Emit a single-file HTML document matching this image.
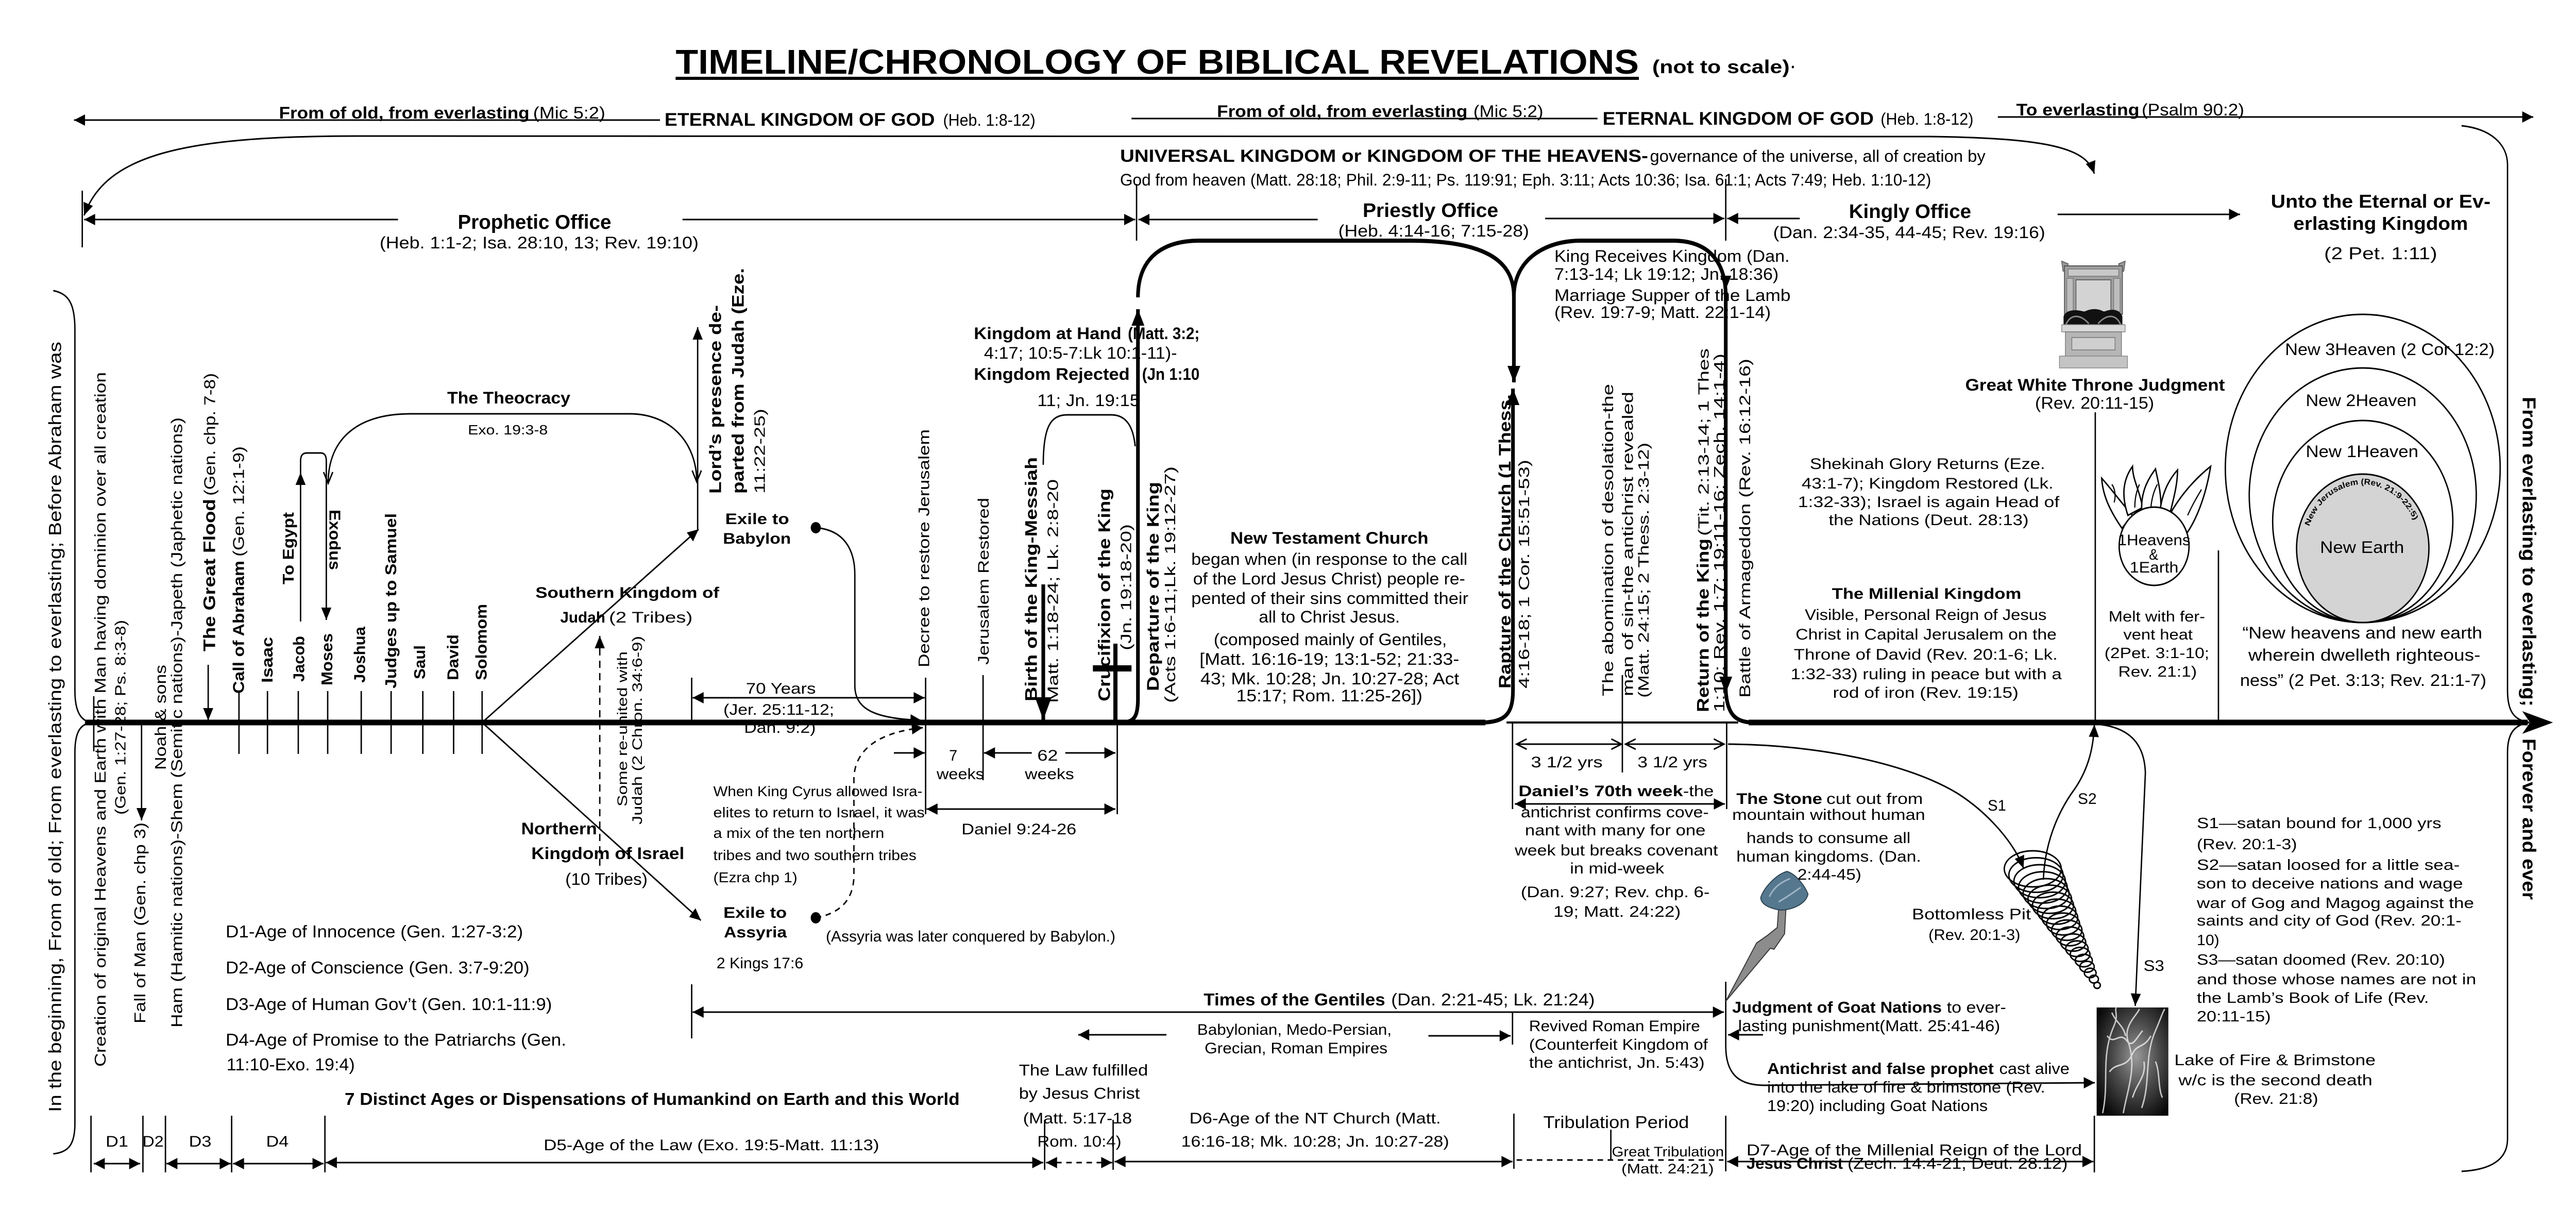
<!DOCTYPE html>
<html><head><meta charset="utf-8">
<meta name="viewport" content="width=device-width, initial-scale=1">
<style>
html,body{margin:0;padding:0;background:#fff;width:100%;height:100%;overflow:hidden;}
svg{display:block;position:fixed;left:0;top:0;width:100vw;height:100vh;}
text{font-family:"Liberation Sans","DejaVu Sans",sans-serif;fill:#000;}
.b{font-weight:bold;}
</style></head><body>
<svg viewBox="0 0 5605 2348" preserveAspectRatio="none" xmlns="http://www.w3.org/2000/svg" overflow="hidden">
<defs>
<marker id="a" markerUnits="userSpaceOnUse" markerWidth="30" markerHeight="26" refX="24" refY="11" orient="auto-start-reverse" overflow="visible"><path d="M0,0L24,11L0,22z" fill="#000"/></marker>
<marker id="t" markerUnits="userSpaceOnUse" markerWidth="36" markerHeight="30" refX="32" refY="14" orient="auto-start-reverse" overflow="visible"><path d="M0,0L32,14L0,28z" fill="#000"/></marker>
<marker id="big" markerUnits="userSpaceOnUse" markerWidth="48" markerHeight="40" refX="44" refY="18" orient="auto-start-reverse" overflow="visible"><path d="M0,0L44,18L0,36z" fill="#000"/></marker>
<marker id="v" markerUnits="userSpaceOnUse" markerWidth="26" markerHeight="24" refX="22" refY="10" orient="auto-start-reverse" overflow="visible"><path d="M0,0L22,10L0,20" fill="none" stroke="#000" stroke-width="3"/></marker>
<radialGradient id="fire" cx="55%" cy="45%" r="65%"><stop offset="0" stop-color="#9a9a9a"/><stop offset="0.5" stop-color="#4a4a4a"/><stop offset="1" stop-color="#080808"/></radialGradient>
</defs>

<!-- ============ LINES ============ -->
<g stroke="#000" fill="none" stroke-width="3">
<line x1="1436" y1="233" x2="161" y2="233" marker-end="url(#a)"/>
<line x1="2462" y1="230" x2="3476" y2="230"/>
<line x1="4347" y1="227" x2="5512" y2="227" marker-end="url(#a)"/>
<path d="M183 418 C230 300 400 264 777 264 L4200 265 C4470 268 4540 290 4557 337" marker-start="url(#a)" marker-end="url(#a)"/>
<line x1="179" y1="370" x2="179" y2="480"/>
<line x1="866" y1="426" x2="183" y2="426" marker-end="url(#a)"/>
<line x1="1485" y1="426" x2="2470" y2="426" marker-end="url(#a)"/>
<line x1="2473" y1="357" x2="2473" y2="467"/>
<line x1="2867" y1="426" x2="2477" y2="426" marker-end="url(#a)"/>
<line x1="3362" y1="424" x2="3752" y2="424" marker-end="url(#a)"/>
<line x1="3755" y1="347" x2="3755" y2="467"/>
<line x1="3916" y1="424" x2="3758" y2="424" marker-end="url(#a)"/>
<line x1="4477" y1="416" x2="4874" y2="416" marker-end="url(#a)"/>

<path d="M116 564 C150 570 163 590 163 640 L163 1340 C163 1380 175 1400 201 1402 C175 1404 163 1420 163 1460 L163 2180 C163 2220 150 2236 116 2239"/>
<path d="M5356 244 C5420 250 5456 280 5456 320 L5456 1340 C5456 1380 5470 1398 5504 1402 C5470 1406 5456 1424 5456 1460 L5456 2210 C5456 2250 5420 2270 5356 2273"/>

<line x1="204" y1="1351" x2="204" y2="1458"/>
<line x1="520" y1="1341" x2="520" y2="1463"/>
<line x1="582" y1="1341" x2="582" y2="1463"/>
<line x1="649" y1="1341" x2="649" y2="1463"/>
<line x1="713" y1="1341" x2="713" y2="1463"/>
<line x1="786" y1="1341" x2="786" y2="1463"/>
<line x1="851" y1="1341" x2="851" y2="1463"/>
<line x1="920" y1="1341" x2="920" y2="1463"/>
<line x1="987" y1="1341" x2="987" y2="1463"/>
<line x1="1049" y1="1341" x2="1049" y2="1463"/>
<line x1="453" y1="1290" x2="453" y2="1398" marker-end="url(#a)"/>
<line x1="308" y1="1402" x2="308" y2="1592" marker-end="url(#a)"/>
<path d="M654 1206 L654 895 C654 884 658 879 668 879 L698 879 C706 879 710 884 710 895 L710 1203" marker-end="url(#a)"/>
<path d="M714 938 C714 850 780 803 893 803 L1370 803 C1460 803 1516 860 1516 935" marker-start="url(#v)" marker-end="url(#v)"/>
<line x1="1049" y1="1402" x2="1520" y2="1027" marker-end="url(#a)"/>
<line x1="1049" y1="1402" x2="1525" y2="1786" marker-end="url(#a)"/>
<line x1="1518" y1="1027" x2="1518" y2="635" marker-end="url(#a)"/>
<line x1="1305" y1="1680" x2="1305" y2="1234" stroke-dasharray="14 10" marker-end="url(#a)"/>
<path d="M1775 1024 C1835 1028 1860 1065 1860 1115 L1860 1330 C1860 1380 1910 1394 2005 1398" marker-end="url(#a)"/>
<path d="M1775 1781 C1830 1772 1857 1745 1858 1700 L1858 1510 C1860 1450 1920 1420 2008 1412" stroke-dasharray="12 10" marker-end="url(#a)"/>
<line x1="1505" y1="1315" x2="1505" y2="1402"/>
<line x1="1507" y1="1354" x2="2012" y2="1354" marker-start="url(#a)" marker-end="url(#a)"/>
<line x1="2014" y1="1315" x2="2014" y2="1580"/>
<line x1="2139" y1="1310" x2="2139" y2="1514"/>
<line x1="1945" y1="1461" x2="2012" y2="1461" marker-end="url(#a)"/>
<line x1="2245" y1="1461" x2="2141" y2="1461" marker-end="url(#a)"/>
<line x1="2318" y1="1461" x2="2427" y2="1461" marker-end="url(#a)"/>
<line x1="2431" y1="1402" x2="2431" y2="1580"/>
<line x1="2016" y1="1570" x2="2427" y2="1570" marker-start="url(#a)" marker-end="url(#a)"/>
<path d="M2270 902 C2270 830 2285 805 2322 805 L2418 805 C2452 805 2466 830 2470 866"/>
<line x1="3291" y1="1402" x2="3291" y2="1570"/>
<line x1="3530" y1="1310" x2="3530" y2="1499"/>
<line x1="3757" y1="1402" x2="3757" y2="1570"/>
<line x1="3300" y1="1444" x2="3528" y2="1444" marker-start="url(#v)" marker-end="url(#v)"/>
<line x1="3537" y1="1444" x2="3751" y2="1444" marker-start="url(#v)" marker-end="url(#v)"/>
<line x1="3296" y1="1560" x2="3753" y2="1560" marker-start="url(#a)" marker-end="url(#a)"/>
<path d="M3760 1444 C3950 1445 4150 1480 4260 1540 C4330 1580 4385 1640 4403 1685" marker-end="url(#a)"/>
<path d="M4446 1707 C4450 1620 4490 1560 4515 1530 C4545 1490 4555 1450 4557 1406" marker-end="url(#a)"/>
<path d="M4560 1405 C4630 1410 4666 1440 4668 1500 L4646 1952" marker-end="url(#a)"/>
<line x1="4559" y1="800" x2="4559" y2="1402"/>
<line x1="4827" y1="1068" x2="4827" y2="1402"/>
<line x1="1505" y1="1910" x2="1505" y2="2015"/>
<line x1="1507" y1="1964" x2="3751" y2="1964" marker-start="url(#a)" marker-end="url(#a)"/>
<line x1="2538" y1="2008" x2="2346" y2="2008" marker-end="url(#a)"/>
<line x1="3108" y1="2010" x2="3287" y2="2010" marker-end="url(#a)"/>
<line x1="3291" y1="1963" x2="3291" y2="2027"/>
<path d="M3755 1905 L3755 2030 C3755 2090 3790 2106 3840 2106 L4558 2101" marker-end="url(#a)"/>
<line x1="3836" y1="2008" x2="3760" y2="2008" marker-end="url(#a)"/>
<line x1="198" y1="2165" x2="198" y2="2275"/>
<line x1="311" y1="2165" x2="311" y2="2275"/>
<line x1="360" y1="2165" x2="360" y2="2275"/>
<line x1="504" y1="2165" x2="504" y2="2275"/>
<line x1="707" y1="2165" x2="707" y2="2275"/>
<line x1="204" y1="2258" x2="305" y2="2258" marker-start="url(#a)" marker-end="url(#a)"/>
<line x1="362" y1="2258" x2="502" y2="2258" marker-start="url(#a)" marker-end="url(#a)"/>
<line x1="507" y1="2258" x2="704" y2="2258" marker-start="url(#a)" marker-end="url(#a)"/>
<line x1="709" y1="2256" x2="2270" y2="2256" marker-start="url(#a)" marker-end="url(#a)"/>
<line x1="2273" y1="2173" x2="2273" y2="2270"/>
<line x1="2422" y1="2173" x2="2422" y2="2270"/>
<line x1="2276" y1="2256" x2="2420" y2="2256" stroke-dasharray="12 10" marker-start="url(#a)" marker-end="url(#a)"/>
<line x1="2425" y1="2254" x2="3291" y2="2254" marker-start="url(#a)" marker-end="url(#a)"/>
<line x1="3294" y1="2161" x2="3294" y2="2268"/>
<line x1="3755" y1="2165" x2="3755" y2="2273"/>
<line x1="3300" y1="2251" x2="3750" y2="2251" stroke-dasharray="12 10"/>
<line x1="3505" y1="2192" x2="3505" y2="2251"/>
<line x1="3758" y1="2254" x2="4555" y2="2254" marker-start="url(#a)" marker-end="url(#a)"/>
<line x1="4557" y1="2165" x2="4557" y2="2275"/>
</g>

<g stroke="#000" fill="none">
<line x1="185" y1="1402" x2="3232" y2="1402" stroke-width="11"/>
<line x1="3278" y1="1402" x2="3782" y2="1402" stroke-width="4"/>
<line x1="3805" y1="1402" x2="5500" y2="1402" stroke-width="11"/>
<path d="M2452 1401 C2470 1398 2476 1385 2476 1356 L2476 600" stroke-width="8" marker-end="url(#t)"/>
<path d="M2476 577 C2476 500 2530 467 2610 467 L3068 467 C3230 467 3294 505 3294 575 L3294 742" stroke-width="8" marker-end="url(#t)"/>
<path d="M3294 575 C3294 505 3360 467 3440 467 L3640 467 C3720 467 3755 510 3755 575 L3755 1345" stroke-width="8" marker-end="url(#t)"/>
<path d="M3755 1340 C3758 1385 3775 1402 3815 1402" stroke-width="8"/>
<path d="M3229 1402 C3275 1400 3292 1385 3292 1340 L3292 754" stroke-width="8" marker-end="url(#t)"/>
<line x1="2270" y1="1134" x2="2270" y2="1397" stroke-width="8" marker-end="url(#big)"/>
<line x1="2427" y1="1249" x2="2427" y2="1402" stroke-width="9"/>
<line x1="2378" y1="1297" x2="2462" y2="1297" stroke-width="12"/>
</g>
<polygon points="3743,535 3767,535 3755,562" fill="#000"/>
<polygon points="654,917 643,941 665,941" fill="#000"/>
<polygon points="5555,1402 5488,1380 5505,1402 5488,1424" fill="#000"/>
<circle cx="1775" cy="1024" r="11" fill="#000"/>
<circle cx="1775" cy="1781" r="11" fill="#000"/>

<rect x="1470" y="149" width="2096" height="6" fill="#000"/>
<circle cx="3901" cy="130" r="2.5" fill="#000"/>

<g stroke="#000" stroke-width="3" fill="none">
<circle cx="5141" cy="909" r="299"/>
<circle cx="5141" cy="961" r="247"/>
<circle cx="5141" cy="1012" r="196"/>
<circle cx="5141" cy="1064" r="144" fill="#d4d4d4"/>
</g>
<path id="nj" d="M5024.5 1021.6 A124 124 0 0 1 5257.5 1021.6" fill="none"/>
<text font-size="16" class="b"><textPath href="#nj" textLength="290" lengthAdjust="spacingAndGlyphs">New Jerusalem (Rev. 21:9-22:5)</textPath></text>

<g stroke="#000" stroke-width="3" fill="#fff">
<path d="M4617 1025 C4590 990 4575 960 4573 928 C4595 950 4615 975 4640 1000 z"/>
<path d="M4630 1000 C4615 960 4620 930 4640 905 C4640 930 4655 950 4662 985 z"/>
<path d="M4660 990 C4658 950 4678 925 4690 910 C4696 935 4702 955 4702 985 z"/>
<path d="M4700 990 C4705 955 4720 930 4738 912 C4738 940 4730 965 4722 995 z"/>
<path d="M4720 1000 C4745 960 4775 930 4810 905 C4802 950 4785 1000 4758 1035 z"/>
<circle cx="4687" cy="1060" r="76"/>
</g>
<g stroke="#000" stroke-width="2.5" fill="none">
<path d="M4600 975 C4605 960 4600 945 4595 940"/>
<path d="M4645 985 C4645 965 4650 950 4655 940"/>
<path d="M4680 985 C4682 965 4688 950 4694 940"/>
<path d="M4760 1000 C4770 980 4780 965 4790 950"/>
</g>

<g stroke="#000" stroke-width="3" fill="none">
<ellipse cx="4423" cy="1686" rx="62" ry="35"/>
<ellipse cx="4430" cy="1698" rx="59" ry="33.5"/>
<ellipse cx="4438" cy="1710" rx="56" ry="32"/>
<ellipse cx="4445" cy="1722" rx="53" ry="30.4"/>
<ellipse cx="4452" cy="1734" rx="50" ry="29"/>
<ellipse cx="4460" cy="1745" rx="47.5" ry="27.4"/>
<ellipse cx="4467" cy="1757" rx="44.6" ry="25.8"/>
<ellipse cx="4475" cy="1769" rx="41.7" ry="24.3"/>
<ellipse cx="4482" cy="1781" rx="38.8" ry="22.8"/>
<ellipse cx="4489" cy="1793" rx="35.9" ry="21.3"/>
<ellipse cx="4497" cy="1805" rx="33" ry="19.7"/>
<ellipse cx="4504" cy="1817" rx="30" ry="18.2"/>
<ellipse cx="4511" cy="1829" rx="27.3" ry="16.7"/>
<ellipse cx="4519" cy="1841" rx="24.4" ry="15.2"/>
<ellipse cx="4526" cy="1852" rx="21.5" ry="13.6"/>
<ellipse cx="4534" cy="1864" rx="18.6" ry="12.1"/>
<ellipse cx="4541" cy="1876" rx="15.7" ry="10.6"/>
<ellipse cx="4548" cy="1888" rx="12.8" ry="9.1"/>
<ellipse cx="4556" cy="1900" rx="9.9" ry="7.5"/>
<ellipse cx="4563" cy="1912" rx="7" ry="6"/>
</g>

<g>
<polygon points="4486,507 4500,512 4497,526 4489,526" fill="#999" stroke="#666" stroke-width="2"/>
<polygon points="4624,507 4610,512 4613,526 4621,526" fill="#999" stroke="#666" stroke-width="2"/>
<rect x="4492" y="516" width="126" height="94" fill="#a0a0a0" stroke="#555" stroke-width="2"/>
<rect x="4500" y="522" width="110" height="14" fill="#c8c8c8" stroke="#777" stroke-width="1.5"/>
<rect x="4497" y="540" width="14" height="65" fill="#bdbdbd" stroke="#777" stroke-width="1.5"/>
<rect x="4599" y="540" width="14" height="65" fill="#bdbdbd" stroke="#777" stroke-width="1.5"/>
<rect x="4517" y="543" width="76" height="62" fill="#d3d3d3" stroke="#666" stroke-width="2"/>
<path d="M4490 614 C4495 600 4520 600 4535 605 C4550 598 4565 598 4578 605 C4595 598 4612 600 4618 614 L4618 634 L4490 634 z" fill="#111"/>
<path d="M4495 630 C4505 610 4525 608 4545 628 M4565 628 C4585 608 4605 610 4614 630" stroke="#888" stroke-width="3" fill="none"/>
<rect x="4486" y="630" width="138" height="14" fill="#d8d8d8" stroke="#888" stroke-width="1.5"/>
<rect x="4494" y="644" width="122" height="48" fill="#b5b5b5" stroke="#777" stroke-width="1.5"/>
<rect x="4508" y="655" width="94" height="24" fill="#cfcfcf" stroke="#777" stroke-width="1.5"/>
<rect x="4481" y="691" width="148" height="23" fill="#c4c4c4" stroke="#888" stroke-width="1.5"/>
</g>

<polygon points="3870,1762 3886,1762 3883,1812 3860,1842 3852,1840 3755,1943 3822,1830 3846,1815 3867,1800" fill="#8c8c8c" stroke="#333" stroke-width="2"/>
<path d="M3888 1691 C3905 1695 3925 1715 3934 1735 C3930 1752 3905 1765 3875 1766 C3850 1763 3832 1755 3831 1742 C3838 1722 3865 1697 3888 1691 z" fill="#56788f" stroke="#2c4352" stroke-width="2"/>
<path d="M3850 1740 C3860 1720 3880 1710 3895 1705 M3870 1750 C3890 1740 3905 1730 3918 1722" stroke="#9fb6c6" stroke-width="3" fill="none"/>

<rect x="4562" y="1955" width="156" height="210" fill="url(#fire)"/>
<g stroke="#eee" stroke-width="3" fill="none" opacity="0.8">
<path d="M4575 2160 C4590 2100 4570 2050 4600 1990 C4610 1970 4600 1960 4605 1955"/>
<path d="M4620 2160 C4630 2110 4650 2070 4630 2020 C4620 1990 4650 1970 4655 1958"/>
<path d="M4660 2150 C4680 2100 4665 2050 4690 2000 C4700 1980 4705 1965 4710 1958"/>
<path d="M4590 2080 C4605 2060 4625 2075 4640 2045 C4650 2025 4665 2035 4680 2010"/>
<path d="M4585 2010 C4600 2030 4612 2000 4628 2020 C4640 2035 4650 2012 4662 2000"/>
<path d="M4640 2130 C4650 2100 4670 2090 4665 2060"/>
<path d="M4595 1965 C4605 1985 4620 1990 4625 2010"/>
<path d="M4690 2060 C4700 2080 4695 2110 4705 2130"/>
</g>

<!-- ============ TEXT: horizontal ============ -->
<text x="1470" y="143" font-size="67" class="b" textLength="2096" lengthAdjust="spacingAndGlyphs">TIMELINE/CHRONOLOGY OF BIBLICAL REVELATIONS</text>
<text x="3595" y="142" font-size="36" class="b" textLength="299" lengthAdjust="spacingAndGlyphs">(not to scale)</text>

<text x="607" y="230" font-size="32" class="b" textLength="545" lengthAdjust="spacingAndGlyphs">From of old, from everlasting</text>
<text x="1160" y="230" font-size="32" textLength="157" lengthAdjust="spacingAndGlyphs">(Mic 5:2)</text>
<text x="1446" y="244" font-size="35" class="b" textLength="588" lengthAdjust="spacingAndGlyphs">ETERNAL KINGDOM OF GOD</text>
<text x="2052" y="244" font-size="32" textLength="201" lengthAdjust="spacingAndGlyphs">(Heb. 1:8-12)</text>
<text x="2648" y="227" font-size="32" class="b" textLength="545" lengthAdjust="spacingAndGlyphs">From of old, from everlasting</text>
<text x="3206" y="227" font-size="32" textLength="152" lengthAdjust="spacingAndGlyphs">(Mic 5:2)</text>
<text x="3487" y="242" font-size="35" class="b" textLength="590" lengthAdjust="spacingAndGlyphs">ETERNAL KINGDOM OF GOD</text>
<text x="4092" y="242" font-size="32" textLength="202" lengthAdjust="spacingAndGlyphs">(Heb. 1:8-12)</text>
<text x="4387" y="224" font-size="32" class="b" textLength="268" lengthAdjust="spacingAndGlyphs">To everlasting</text>
<text x="4660" y="224" font-size="32" textLength="223" lengthAdjust="spacingAndGlyphs">(Psalm 90:2)</text>

<text x="2437" y="314" font-size="34" class="b" textLength="1149" lengthAdjust="spacingAndGlyphs">UNIVERSAL KINGDOM or KINGDOM OF THE HEAVENS-</text>
<text x="3590" y="314" font-size="32" textLength="730" lengthAdjust="spacingAndGlyphs">governance of the universe, all of creation by</text>
<text x="2437" y="360" font-size="32" textLength="1765" lengthAdjust="spacingAndGlyphs">God from heaven (Matt. 28:18; Phil. 2:9-11; Ps. 119:91; Eph. 3:11; Acts 10:36; Isa. 61:1; Acts 7:49; Heb. 1:10-12)</text>

<text x="996" y="444" font-size="39" class="b" textLength="334" lengthAdjust="spacingAndGlyphs">Prophetic Office</text>
<text x="826" y="482" font-size="32" textLength="694" lengthAdjust="spacingAndGlyphs">(Heb. 1:1-2; Isa. 28:10, 13; Rev. 19:10)</text>
<text x="2965" y="421" font-size="38" class="b" textLength="295" lengthAdjust="spacingAndGlyphs">Priestly Office</text>
<text x="2912" y="459" font-size="32" textLength="415" lengthAdjust="spacingAndGlyphs">(Heb. 4:14-16; 7:15-28)</text>
<text x="4023" y="423" font-size="38" class="b" textLength="266" lengthAdjust="spacingAndGlyphs">Kingly Office</text>
<text x="3858" y="462" font-size="32" textLength="592" lengthAdjust="spacingAndGlyphs">(Dan. 2:34-35, 44-45; Rev. 19:16)</text>
<text x="4941" y="403" font-size="36" class="b" textLength="478" lengthAdjust="spacingAndGlyphs">Unto the Eternal or Ev-</text>
<text x="4990" y="446" font-size="36" class="b" textLength="380" lengthAdjust="spacingAndGlyphs">erlasting Kingdom</text>
<text x="5057" y="503" font-size="33" textLength="246" lengthAdjust="spacingAndGlyphs">(2 Pet. 1:11)</text>

<text x="3382" y="508" font-size="32" textLength="512" lengthAdjust="spacingAndGlyphs">King Receives Kingdom (Dan.</text>
<text x="3382" y="543" font-size="32" textLength="488" lengthAdjust="spacingAndGlyphs">7:13-14; Lk 19:12; Jn. 18:36)</text>
<text x="3382" y="584" font-size="32" textLength="514" lengthAdjust="spacingAndGlyphs">Marriage Supper of the Lamb</text>
<text x="3382" y="617" font-size="32" textLength="471" lengthAdjust="spacingAndGlyphs">(Rev. 19:7-9; Matt. 22:1-14)</text>

<text x="4276" y="758" font-size="32" class="b" textLength="565" lengthAdjust="spacingAndGlyphs">Great White Throne Judgment</text>
<text x="4428" y="793" font-size="32" textLength="259" lengthAdjust="spacingAndGlyphs">(Rev. 20:11-15)</text>

<text x="4972" y="689" font-size="32" textLength="456" lengthAdjust="spacingAndGlyphs">New 3Heaven (2 Cor 12:2)</text>
<text x="5017" y="788" font-size="32" textLength="241" lengthAdjust="spacingAndGlyphs">New 2Heaven</text>
<text x="5017" y="887" font-size="32" textLength="245" lengthAdjust="spacingAndGlyphs">New 1Heaven</text>
<text x="5048" y="1073" font-size="32" textLength="183" lengthAdjust="spacingAndGlyphs">New Earth</text>
<text x="4879" y="1239" font-size="32" textLength="522" lengthAdjust="spacingAndGlyphs">“New heavens and new earth</text>
<text x="4892" y="1282" font-size="32" textLength="505" lengthAdjust="spacingAndGlyphs">wherein dwelleth righteous-</text>
<text x="4874" y="1331" font-size="32" textLength="536" lengthAdjust="spacingAndGlyphs">ness” (2 Pet. 3:13; Rev. 21:1-7)</text>

<text x="4608" y="1058" font-size="30" textLength="158" lengthAdjust="spacingAndGlyphs">1Heavens</text>
<text x="4676" y="1086" font-size="30">&amp;</text>
<text x="4634" y="1111" font-size="30" textLength="106" lengthAdjust="spacingAndGlyphs">1Earth</text>
<text x="4588" y="1206" font-size="29" textLength="210" lengthAdjust="spacingAndGlyphs">Melt with fer-</text>
<text x="4620" y="1241" font-size="29" textLength="151" lengthAdjust="spacingAndGlyphs">vent heat</text>
<text x="4579" y="1277" font-size="29" textLength="228" lengthAdjust="spacingAndGlyphs">(2Pet. 3:1-10;</text>
<text x="4609" y="1313" font-size="29" textLength="171" lengthAdjust="spacingAndGlyphs">Rev. 21:1)</text>

<text x="2119" y="658" font-size="32" class="b" textLength="321" lengthAdjust="spacingAndGlyphs">Kingdom at Hand</text>
<text x="2454" y="658" font-size="32" class="b" textLength="156" lengthAdjust="spacingAndGlyphs">(Matt. 3:2;</text>
<text x="2141" y="696" font-size="32" textLength="420" lengthAdjust="spacingAndGlyphs">4:17; 10:5-7:Lk 10:1-11)-</text>
<text x="2119" y="737" font-size="32" class="b" textLength="339" lengthAdjust="spacingAndGlyphs">Kingdom Rejected</text>
<text x="2485" y="737" font-size="32" class="b" textLength="125" lengthAdjust="spacingAndGlyphs">(Jn 1:10</text>
<text x="2257" y="788" font-size="32" textLength="223" lengthAdjust="spacingAndGlyphs">11; Jn. 19:15</text>

<text x="973" y="783" font-size="32" class="b" textLength="268" lengthAdjust="spacingAndGlyphs">The Theocracy</text>
<text x="1018" y="843" font-size="26" textLength="174" lengthAdjust="spacingAndGlyphs">Exo. 19:3-8</text>

<text x="1165" y="1160" font-size="30" class="b" textLength="400" lengthAdjust="spacingAndGlyphs">Southern Kingdom of</text>
<text x="1219" y="1208" font-size="30" class="b" textLength="98" lengthAdjust="spacingAndGlyphs">Judah</text>
<text x="1325" y="1208" font-size="30" textLength="182" lengthAdjust="spacingAndGlyphs">(2 Tribes)</text>
<text x="1578" y="1017" font-size="30" class="b" textLength="139" lengthAdjust="spacingAndGlyphs">Exile to</text>
<text x="1573" y="1055" font-size="30" class="b" textLength="148" lengthAdjust="spacingAndGlyphs">Babylon</text>
<text x="1623" y="1346" font-size="30" textLength="152" lengthAdjust="spacingAndGlyphs">70 Years</text>
<text x="1574" y="1387" font-size="30" textLength="241" lengthAdjust="spacingAndGlyphs">(Jer. 25:11-12;</text>
<text x="1619" y="1422" font-size="30" textLength="156" lengthAdjust="spacingAndGlyphs">Dan. 9:2)</text>
<text x="2065" y="1476" font-size="30" textLength="18" lengthAdjust="spacingAndGlyphs">7</text>
<text x="2038" y="1512" font-size="30" textLength="103" lengthAdjust="spacingAndGlyphs">weeks</text>
<text x="2257" y="1476" font-size="30" textLength="45" lengthAdjust="spacingAndGlyphs">62</text>
<text x="2230" y="1512" font-size="30" textLength="107" lengthAdjust="spacingAndGlyphs">weeks</text>
<text x="2092" y="1619" font-size="30" textLength="250" lengthAdjust="spacingAndGlyphs">Daniel 9:24-26</text>

<text x="1552" y="1545" font-size="28" textLength="455" lengthAdjust="spacingAndGlyphs">When King Cyrus allowed Isra-</text>
<text x="1552" y="1586" font-size="28" textLength="460" lengthAdjust="spacingAndGlyphs">elites to return to Israel, it was</text>
<text x="1552" y="1626" font-size="28" textLength="372" lengthAdjust="spacingAndGlyphs">a mix of the ten northern</text>
<text x="1552" y="1669" font-size="28" textLength="442" lengthAdjust="spacingAndGlyphs">tribes and two southern tribes</text>
<text x="1552" y="1712" font-size="28" textLength="183" lengthAdjust="spacingAndGlyphs">(Ezra chp 1)</text>

<text x="1134" y="1619" font-size="32" class="b" textLength="165" lengthAdjust="spacingAndGlyphs">Northern</text>
<text x="1156" y="1667" font-size="32" class="b" textLength="333" lengthAdjust="spacingAndGlyphs">Kingdom of Israel</text>
<text x="1230" y="1717" font-size="32" textLength="179" lengthAdjust="spacingAndGlyphs">(10 Tribes)</text>
<text x="1574" y="1781" font-size="30" class="b" textLength="138" lengthAdjust="spacingAndGlyphs">Exile to</text>
<text x="1575" y="1819" font-size="30" class="b" textLength="137" lengthAdjust="spacingAndGlyphs">Assyria</text>
<text x="1559" y="1879" font-size="30" textLength="189" lengthAdjust="spacingAndGlyphs">2 Kings 17:6</text>
<text x="1797" y="1827" font-size="30" textLength="630" lengthAdjust="spacingAndGlyphs">(Assyria was later conquered by Babylon.)</text>

<text x="491" y="1819" font-size="33" textLength="647" lengthAdjust="spacingAndGlyphs">D1-Age of Innocence (Gen. 1:27-3:2)</text>
<text x="491" y="1889" font-size="33" textLength="661" lengthAdjust="spacingAndGlyphs">D2-Age of Conscience (Gen. 3:7-9:20)</text>
<text x="491" y="1960" font-size="33" textLength="710" lengthAdjust="spacingAndGlyphs">D3-Age of Human Gov’t (Gen. 10:1-11:9)</text>
<text x="491" y="2029" font-size="33" textLength="741" lengthAdjust="spacingAndGlyphs">D4-Age of Promise to the Patriarchs (Gen.</text>
<text x="493" y="2077" font-size="33" textLength="279" lengthAdjust="spacingAndGlyphs">11:10-Exo. 19:4)</text>
<text x="750" y="2144" font-size="33" class="b" textLength="1338" lengthAdjust="spacingAndGlyphs">7 Distinct Ages or Dispensations of Humankind on Earth and this World</text>
<text x="230" y="2225" font-size="30" textLength="49" lengthAdjust="spacingAndGlyphs">D1</text>
<text x="310" y="2225" font-size="30" textLength="46" lengthAdjust="spacingAndGlyphs">D2</text>
<text x="411" y="2225" font-size="30" textLength="49" lengthAdjust="spacingAndGlyphs">D3</text>
<text x="579" y="2225" font-size="30" textLength="49" lengthAdjust="spacingAndGlyphs">D4</text>
<text x="1183" y="2232" font-size="30" textLength="730" lengthAdjust="spacingAndGlyphs">D5-Age of the Law (Exo. 19:5-Matt. 11:13)</text>
<text x="2217" y="2087" font-size="31" textLength="281" lengthAdjust="spacingAndGlyphs">The Law fulfilled</text>
<text x="2217" y="2132" font-size="31" textLength="263" lengthAdjust="spacingAndGlyphs">by Jesus Christ</text>
<text x="2226" y="2180" font-size="30" textLength="237" lengthAdjust="spacingAndGlyphs">(Matt. 5:17-18</text>
<text x="2257" y="2225" font-size="30" textLength="183" lengthAdjust="spacingAndGlyphs">Rom. 10:4)</text>
<text x="2588" y="2180" font-size="30" textLength="547" lengthAdjust="spacingAndGlyphs">D6-Age of the NT Church (Matt.</text>
<text x="2570" y="2225" font-size="30" textLength="583" lengthAdjust="spacingAndGlyphs">16:16-18; Mk. 10:28; Jn. 10:27-28)</text>

<text x="2619" y="1951" font-size="33" class="b" textLength="395" lengthAdjust="spacingAndGlyphs">Times of the Gentiles</text>
<text x="3027" y="1951" font-size="33" textLength="443" lengthAdjust="spacingAndGlyphs">(Dan. 2:21-45; Lk. 21:24)</text>
<text x="2605" y="2008" font-size="30" textLength="423" lengthAdjust="spacingAndGlyphs">Babylonian, Medo-Persian,</text>
<text x="2621" y="2044" font-size="30" textLength="398" lengthAdjust="spacingAndGlyphs">Grecian, Roman Empires</text>
<text x="3327" y="2001" font-size="30" textLength="372" lengthAdjust="spacingAndGlyphs">Revived Roman Empire</text>
<text x="3327" y="2037" font-size="30" textLength="389" lengthAdjust="spacingAndGlyphs">(Counterfeit Kingdom of</text>
<text x="3327" y="2072" font-size="30" textLength="382" lengthAdjust="spacingAndGlyphs">the antichrist, Jn. 5:43)</text>
<text x="3358" y="2189" font-size="33" textLength="317" lengthAdjust="spacingAndGlyphs">Tribulation Period</text>
<text x="3507" y="2244" font-size="27" textLength="244" lengthAdjust="spacingAndGlyphs">Great Tribulation</text>
<text x="3528" y="2277" font-size="27" textLength="201" lengthAdjust="spacingAndGlyphs">(Matt. 24:21)</text>

<text x="3769" y="1965" font-size="31" class="b" textLength="456" lengthAdjust="spacingAndGlyphs">Judgment of Goat Nations</text>
<text x="4236" y="1965" font-size="31" textLength="129" lengthAdjust="spacingAndGlyphs">to ever-</text>
<text x="3782" y="2001" font-size="31" textLength="570" lengthAdjust="spacingAndGlyphs">lasting punishment(Matt. 25:41-46)</text>
<text x="3845" y="2084" font-size="31" class="b" textLength="493" lengthAdjust="spacingAndGlyphs">Antichrist and false prophet</text>
<text x="4350" y="2084" font-size="31" textLength="153" lengthAdjust="spacingAndGlyphs">cast alive</text>
<text x="3845" y="2120" font-size="31" textLength="605" lengthAdjust="spacingAndGlyphs">into the lake of fire &amp; brimstone (Rev.</text>
<text x="3845" y="2156" font-size="31" textLength="480" lengthAdjust="spacingAndGlyphs">19:20) including Goat Nations</text>
<text x="3800" y="2242" font-size="31" textLength="730" lengthAdjust="spacingAndGlyphs">D7-Age of the  Millenial Reign of the Lord</text>
<text x="3800" y="2268" font-size="31" class="b" textLength="210" lengthAdjust="spacingAndGlyphs">Jesus Christ</text>
<text x="4020" y="2268" font-size="31" textLength="479" lengthAdjust="spacingAndGlyphs">(Zech. 14:4-21; Deut. 28:12)</text>

<text x="3304" y="1545" font-size="30" class="b" textLength="358" lengthAdjust="spacingAndGlyphs">Daniel’s 70th week</text>
<text x="3662" y="1545" font-size="30" textLength="67" lengthAdjust="spacingAndGlyphs">-the</text>
<text x="3309" y="1586" font-size="30" textLength="409" lengthAdjust="spacingAndGlyphs">antichrist confirms cove-</text>
<text x="3318" y="1621" font-size="30" textLength="393" lengthAdjust="spacingAndGlyphs">nant with many for one</text>
<text x="3296" y="1660" font-size="30" textLength="442" lengthAdjust="spacingAndGlyphs">week but breaks covenant</text>
<text x="3416" y="1695" font-size="30" textLength="205" lengthAdjust="spacingAndGlyphs">in mid-week</text>
<text x="3309" y="1741" font-size="30" textLength="411" lengthAdjust="spacingAndGlyphs">(Dan. 9:27; Rev. chp. 6-</text>
<text x="3380" y="1779" font-size="30" textLength="277" lengthAdjust="spacingAndGlyphs">19; Matt. 24:22)</text>
<text x="3331" y="1489" font-size="30" textLength="156" lengthAdjust="spacingAndGlyphs">3 1/2 yrs</text>
<text x="3563" y="1489" font-size="30" textLength="152" lengthAdjust="spacingAndGlyphs">3 1/2 yrs</text>

<text x="3778" y="1560" font-size="30" class="b" textLength="187" lengthAdjust="spacingAndGlyphs">The Stone</text>
<text x="3974" y="1560" font-size="30" textLength="210" lengthAdjust="spacingAndGlyphs">cut out from</text>
<text x="3769" y="1591" font-size="30" textLength="420" lengthAdjust="spacingAndGlyphs">mountain without human</text>
<text x="3800" y="1636" font-size="30" textLength="357" lengthAdjust="spacingAndGlyphs">hands to consume all</text>
<text x="3778" y="1672" font-size="30" textLength="402" lengthAdjust="spacingAndGlyphs">human kingdoms. (Dan.</text>
<text x="3911" y="1707" font-size="30" textLength="139" lengthAdjust="spacingAndGlyphs">2:44-45)</text>

<text x="4160" y="1784" font-size="30" textLength="259" lengthAdjust="spacingAndGlyphs">Bottomless Pit</text>
<text x="4196" y="1824" font-size="30" textLength="200" lengthAdjust="spacingAndGlyphs">(Rev. 20:1-3)</text>
<text x="4325" y="1573" font-size="30" textLength="40" lengthAdjust="spacingAndGlyphs">S1</text>
<text x="4521" y="1560" font-size="30" textLength="41" lengthAdjust="spacingAndGlyphs">S2</text>
<text x="4664" y="1884" font-size="30" textLength="45" lengthAdjust="spacingAndGlyphs">S3</text>

<text x="4780" y="1607" font-size="29" textLength="532" lengthAdjust="spacingAndGlyphs">S1—satan bound for 1,000 yrs</text>
<text x="4780" y="1648" font-size="29" textLength="218" lengthAdjust="spacingAndGlyphs">(Rev. 20:1-3)</text>
<text x="4780" y="1688" font-size="29" textLength="572" lengthAdjust="spacingAndGlyphs">S2—satan loosed for a little sea-</text>
<text x="4780" y="1724" font-size="29" textLength="579" lengthAdjust="spacingAndGlyphs">son to deceive nations and wage</text>
<text x="4780" y="1762" font-size="29" textLength="603" lengthAdjust="spacingAndGlyphs">war of Gog and Magog against the</text>
<text x="4780" y="1796" font-size="29" textLength="576" lengthAdjust="spacingAndGlyphs">saints and city of God (Rev. 20:1-</text>
<text x="4780" y="1834" font-size="29" textLength="49" lengthAdjust="spacingAndGlyphs">10)</text>
<text x="4780" y="1872" font-size="29" textLength="540" lengthAdjust="spacingAndGlyphs">S3—satan doomed (Rev. 20:10)</text>
<text x="4780" y="1910" font-size="29" textLength="608" lengthAdjust="spacingAndGlyphs">and those whose names are not in</text>
<text x="4780" y="1946" font-size="29" textLength="505" lengthAdjust="spacingAndGlyphs">the Lamb’s Book of Life (Rev.</text>
<text x="4780" y="1982" font-size="29" textLength="161" lengthAdjust="spacingAndGlyphs">20:11-15)</text>

<text x="4731" y="2067" font-size="30" textLength="438" lengthAdjust="spacingAndGlyphs">Lake of Fire &amp; Brimstone</text>
<text x="4740" y="2106" font-size="30" textLength="422" lengthAdjust="spacingAndGlyphs">w/c is the second death</text>
<text x="4861" y="2142" font-size="30" textLength="183" lengthAdjust="spacingAndGlyphs">(Rev. 21:8)</text>

<text x="3938" y="910" font-size="30" textLength="512" lengthAdjust="spacingAndGlyphs">Shekinah Glory Returns (Eze.</text>
<text x="3920" y="948" font-size="30" textLength="548" lengthAdjust="spacingAndGlyphs">43:1-7); Kingdom Restored (Lk.</text>
<text x="3912" y="984" font-size="30" textLength="569" lengthAdjust="spacingAndGlyphs">1:32-33); Israel is again Head of</text>
<text x="3979" y="1019" font-size="30" textLength="435" lengthAdjust="spacingAndGlyphs">the Nations (Deut. 28:13)</text>
<text x="3986" y="1162" font-size="30" class="b" textLength="412" lengthAdjust="spacingAndGlyphs">The Millenial Kingdom</text>
<text x="3927" y="1203" font-size="30" textLength="526" lengthAdjust="spacingAndGlyphs">Visible, Personal Reign of Jesus</text>
<text x="3907" y="1241" font-size="30" textLength="568" lengthAdjust="spacingAndGlyphs">Christ in Capital Jerusalem on the</text>
<text x="3903" y="1280" font-size="30" textLength="574" lengthAdjust="spacingAndGlyphs">Throne of David (Rev. 20:1-6; Lk.</text>
<text x="3896" y="1318" font-size="30" textLength="590" lengthAdjust="spacingAndGlyphs">1:32-33) ruling in peace but with a</text>
<text x="3988" y="1354" font-size="30" textLength="404" lengthAdjust="spacingAndGlyphs">rod of iron (Rev. 19:15)</text>

<text x="2677" y="1055" font-size="32" class="b" textLength="431" lengthAdjust="spacingAndGlyphs">New Testament Church</text>
<text x="2592" y="1096" font-size="32" textLength="601" lengthAdjust="spacingAndGlyphs">began when (in response to the call</text>
<text x="2596" y="1134" font-size="32" textLength="592" lengthAdjust="spacingAndGlyphs">of the Lord Jesus Christ) people re-</text>
<text x="2592" y="1172" font-size="32" textLength="603" lengthAdjust="spacingAndGlyphs">pented of their sins committed their</text>
<text x="2739" y="1208" font-size="32" textLength="307" lengthAdjust="spacingAndGlyphs">all to Christ Jesus.</text>
<text x="2641" y="1252" font-size="32" textLength="507" lengthAdjust="spacingAndGlyphs">(composed mainly of Gentiles,</text>
<text x="2610" y="1290" font-size="32" textLength="565" lengthAdjust="spacingAndGlyphs">[Matt. 16:16-19; 13:1-52; 21:33-</text>
<text x="2612" y="1328" font-size="32" textLength="563" lengthAdjust="spacingAndGlyphs">43; Mk. 10:28; Jn. 10:27-28; Act</text>
<text x="2690" y="1361" font-size="32" textLength="405" lengthAdjust="spacingAndGlyphs">15:17; Rom. 11:25-26])</text>

<!-- ============ TEXT: vertical ============ -->
<text transform="translate(133 2158) rotate(-90)" font-size="38" textLength="1495" lengthAdjust="spacingAndGlyphs">In the beginning, From of old; From everlasting to everlasting; Before Abraham was</text>
<text transform="translate(230 2070) rotate(-90)" font-size="34" textLength="1348" lengthAdjust="spacingAndGlyphs">Creation of original Heavens and Earth with Man having dominion over all creation</text>
<text transform="translate(273 1581) rotate(-90)" font-size="32" textLength="378" lengthAdjust="spacingAndGlyphs">(Gen. 1:27-28; Ps. 8:3-8)</text>
<text transform="translate(316 1986) rotate(-90)" font-size="34" textLength="390" lengthAdjust="spacingAndGlyphs">Fall of Man (Gen. chp 3)</text>
<text transform="translate(361 1494) rotate(-90)" font-size="34" textLength="204" lengthAdjust="spacingAndGlyphs">Noah &amp; sons</text>
<text transform="translate(396 1994) rotate(-90)" font-size="34" textLength="1184" lengthAdjust="spacingAndGlyphs">Ham (Hamitic nations)-Shem (Semitic nations)-Japeth (Japhetic nations)</text>
<text transform="translate(468 1264) rotate(-90)" font-size="36" class="b" textLength="296" lengthAdjust="spacingAndGlyphs">The Great Flood</text>
<text transform="translate(468 962) rotate(-90)" font-size="34" textLength="238" lengthAdjust="spacingAndGlyphs">(Gen. chp. 7-8)</text>
<text transform="translate(531 1346) rotate(-90)" font-size="34" class="b" textLength="258" lengthAdjust="spacingAndGlyphs">Call of Abraham</text>
<text transform="translate(531 1080) rotate(-90)" font-size="34" textLength="214" lengthAdjust="spacingAndGlyphs">(Gen. 12:1-9)</text>
<text transform="translate(593 1325) rotate(-90)" font-size="34" class="b" textLength="89" lengthAdjust="spacingAndGlyphs">Isaac</text>
<text transform="translate(662 1323) rotate(-90)" font-size="34" class="b" textLength="89" lengthAdjust="spacingAndGlyphs">Jacob</text>
<text transform="translate(723 1330) rotate(-90)" font-size="34" class="b" textLength="101" lengthAdjust="spacingAndGlyphs">Moses</text>
<text transform="translate(794 1325) rotate(-90)" font-size="34" class="b" textLength="109" lengthAdjust="spacingAndGlyphs">Joshua</text>
<text transform="translate(862 1336) rotate(-90)" font-size="34" class="b" textLength="340" lengthAdjust="spacingAndGlyphs">Judges up to Samuel</text>
<text transform="translate(925 1318) rotate(-90)" font-size="34" class="b" textLength="66" lengthAdjust="spacingAndGlyphs">Saul</text>
<text transform="translate(997 1320) rotate(-90)" font-size="34" class="b" textLength="89" lengthAdjust="spacingAndGlyphs">David</text>
<text transform="translate(1059 1320) rotate(-90)" font-size="34" class="b" textLength="148" lengthAdjust="spacingAndGlyphs">Solomom</text>
<text transform="translate(639 1134) rotate(-90)" font-size="34" class="b" textLength="140" lengthAdjust="spacingAndGlyphs">To Egypt</text>
<text transform="translate(717 989) rotate(90)" font-size="34" class="b" textLength="117" lengthAdjust="spacingAndGlyphs">Exodus</text>
<text transform="translate(1569 958) rotate(-90)" font-size="36" class="b" textLength="366" lengthAdjust="spacingAndGlyphs">Lord’s presence de-</text>
<text transform="translate(1618 958) rotate(-90)" font-size="36" class="b" textLength="438" lengthAdjust="spacingAndGlyphs">parted from Judah (Eze.</text>
<text transform="translate(1664 958) rotate(-90)" font-size="32" textLength="165" lengthAdjust="spacingAndGlyphs">11:22-25)</text>
<text transform="translate(1364 1565) rotate(-90)" font-size="30" textLength="301" lengthAdjust="spacingAndGlyphs">Some re-united with</text>
<text transform="translate(1397 1600) rotate(-90)" font-size="30" textLength="366" lengthAdjust="spacingAndGlyphs">Judah (2 Chron. 34:6-9)</text>
<text transform="translate(2022 1295) rotate(-90)" font-size="33" textLength="462" lengthAdjust="spacingAndGlyphs">Decree to restore Jerusalem</text>
<text transform="translate(2151 1290) rotate(-90)" font-size="33" textLength="324" lengthAdjust="spacingAndGlyphs">Jerusalem Restored</text>
<text transform="translate(2256 1361) rotate(-90)" font-size="36" class="b" textLength="474" lengthAdjust="spacingAndGlyphs">Birth of the King-Messiah</text>
<text transform="translate(2302 1364) rotate(-90)" font-size="32" textLength="434" lengthAdjust="spacingAndGlyphs">Matt. 1:18-24; Lk. 2:8-20</text>
<text transform="translate(2415 1361) rotate(-90)" font-size="36" class="b" textLength="413" lengthAdjust="spacingAndGlyphs">Crucifixion of the King</text>
<text transform="translate(2461 1262) rotate(-90)" font-size="32" textLength="245" lengthAdjust="spacingAndGlyphs">(Jn. 19:18-20)</text>
<text transform="translate(2521 1341) rotate(-90)" font-size="36" class="b" textLength="406" lengthAdjust="spacingAndGlyphs">Departure of the King</text>
<text transform="translate(2557 1364) rotate(-90)" font-size="32" textLength="459" lengthAdjust="spacingAndGlyphs">(Acts 1:6-11;Lk. 19:12-27)</text>
<text transform="translate(3287 1336) rotate(-90)" font-size="36" class="b" textLength="571" lengthAdjust="spacingAndGlyphs">Rapture of the Church (1 Thess.</text>
<text transform="translate(3327 1336) rotate(-90)" font-size="32" textLength="444" lengthAdjust="spacingAndGlyphs">4:16-18; 1 Cor. 15:51-53)</text>
<text transform="translate(3510 1351) rotate(-90)" font-size="33" textLength="606" lengthAdjust="spacingAndGlyphs">The abomination of desolation-the</text>
<text transform="translate(3553 1351) rotate(-90)" font-size="33" textLength="591" lengthAdjust="spacingAndGlyphs">man of sin-the antichrist revealed</text>
<text transform="translate(3587 1354) rotate(-90)" font-size="32" textLength="495" lengthAdjust="spacingAndGlyphs">(Matt. 24:15; 2 Thess. 2:3-12)</text>
<text transform="translate(3718 1382) rotate(-90)" font-size="36" class="b" textLength="337" lengthAdjust="spacingAndGlyphs">Return of the King</text>
<text transform="translate(3718 1040) rotate(-90)" font-size="32" textLength="364" lengthAdjust="spacingAndGlyphs">(Tit. 2:13-14; 1 Thes</text>
<text transform="translate(3752 1382) rotate(-90)" font-size="32" textLength="696" lengthAdjust="spacingAndGlyphs">1:10; Rev. 1:7; 19:11-16; Zech. 14:1-4)</text>
<text transform="translate(3808 1354) rotate(-90)" font-size="33" textLength="658" lengthAdjust="spacingAndGlyphs">Battle of Armageddon (Rev. 16:12-16)</text>
<text transform="translate(5489 770) rotate(90)" font-size="40" class="b" textLength="601" lengthAdjust="spacingAndGlyphs">From everlasting to everlasting;</text>
<text transform="translate(5489 1433) rotate(90)" font-size="40" class="b" textLength="313" lengthAdjust="spacingAndGlyphs">Forever and ever</text>
</svg>
</body></html>
